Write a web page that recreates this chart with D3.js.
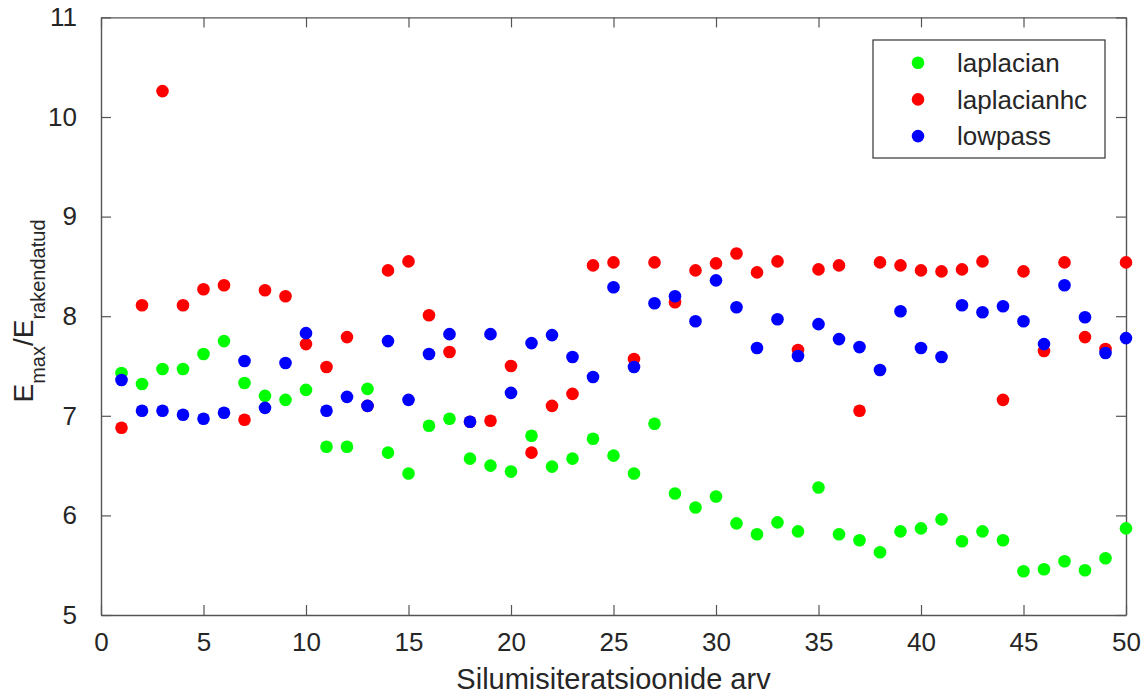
<!DOCTYPE html>
<html>
<head>
<meta charset="utf-8">
<script src="https://cdn.jsdelivr.net/npm/d3@7"></script>
<style>
	body { margin: 0; background: #fff; }
	text { font-family: 'Liberation Sans', Arial, sans-serif; fill: #262626; }
</style>
</head>
<body>
<div id="chart"></div>
<script>
const iterations = d3.range(1, 51);

const laplacian = [
	7.43, 7.32, 7.47, 7.47, 7.62, 7.75, 7.33, 7.2, 7.16, 7.26,
	6.69, 6.69, 7.27, 6.63, 6.42, 6.9, 6.97, 6.57, 6.5, 6.44,
	6.8, 6.49, 6.57, 6.77, 6.6, 6.42, 6.92, 6.22, 6.08, 6.19,
	5.92, 5.81, 5.93, 5.84, 6.28, 5.81, 5.75, 5.63, 5.84, 5.87,
	5.96, 5.74, 5.84, 5.75, 5.44, 5.46, 5.54, 5.45, 5.57, 5.87,
];
const laplacianhc = [
	6.88, 8.11, 10.26, 8.11, 8.27, 8.31, 6.96, 8.26, 8.2, 7.72,
	7.49, 7.79, 7.1, 8.46, 8.55, 8.01, 7.64, 6.94, 6.95, 7.5,
	6.63, 7.1, 7.22, 8.51, 8.54, 7.57, 8.54, 8.14, 8.46, 8.53,
	8.63, 8.44, 8.55, 7.66, 8.47, 8.51, 7.05, 8.54, 8.51, 8.46,
	8.45, 8.47, 8.55, 7.16, 8.45, 7.65, 8.54, 7.79, 7.67, 8.54,
];
const lowpass = [
	7.36, 7.05, 7.05, 7.01, 6.97, 7.03, 7.55, 7.08, 7.53, 7.83,
	7.05, 7.19, 7.1, 7.75, 7.16, 7.62, 7.82, 6.94, 7.82, 7.23,
	7.73, 7.81, 7.59, 7.39, 8.29, 7.49, 8.13, 8.2, 7.95, 8.36,
	8.09, 7.68, 7.97, 7.6, 7.92, 7.77, 7.69, 7.46, 8.05, 7.68,
	7.59, 8.11, 8.04, 8.1, 7.95, 7.72, 8.31, 7.99, 7.63, 7.78,
];
const xTicks = [0, 5, 10, 15, 20, 25, 30, 35, 40, 45, 50];
const yTicks = [5, 6, 7, 8, 9, 10, 11];

const series = [
	{ name: 'laplacian', values: laplacian, color: '#00ff00' },
	{ name: 'laplacianhc', values: laplacianhc, color: '#ff0000' },
	{ name: 'lowpass', values: lowpass, color: '#0000ff' },
];

var margin = { top: 17.4, right: 21, bottom: 82, left: 101 };
var width = 1147 - margin.left - margin.right;
var height = 697 - margin.top - margin.bottom;

var svg = d3
	.select('#chart')
	.append('svg')
	.attr('width', 1147)
	.attr('height', 697)
	.append('g')
	.attr('transform', 'translate(' + margin.left + ',' + margin.top + ')');

var x = d3.scaleLinear().domain([0, 50]).range([0, width]);
var y = d3.scaleLinear().domain([5, 11]).range([height, 0]);

// axes with inward ticks on all four sides
function styleAxis(g) {
	g.select('.domain').attr('stroke', '#555').attr('stroke-width', 1.4);
	g.selectAll('.tick line').attr('stroke', '#555').attr('stroke-width', 1.2);
	g.selectAll('text').style('font-size', '26px').attr('fill', '#262626');
}

svg.append('g')
	.attr('transform', 'translate(0,' + height + ')')
	.call(d3.axisBottom(x).tickValues(xTicks).tickSize(-10).tickSizeOuter(0).tickPadding(18).tickFormat(d3.format('d')))
	.call(styleAxis);

svg.append('g')
	.call(d3.axisTop(x).tickValues(xTicks).tickSize(-10).tickSizeOuter(0).tickFormat(''))
	.call(styleAxis);

svg.append('g')
	.call(d3.axisLeft(y).tickValues(yTicks).tickSize(-10).tickSizeOuter(0).tickPadding(24).tickFormat(d3.format('d')))
	.call(styleAxis);

svg.append('g')
	.attr('transform', 'translate(' + width + ',0)')
	.call(d3.axisRight(y).tickValues(yTicks).tickSize(-10).tickSizeOuter(0).tickFormat(''))
	.call(styleAxis);

// points
series.forEach(function (s) {
	svg.append('g')
		.selectAll('circle')
		.data(s.values)
		.enter()
		.append('circle')
		.attr('cx', function (d, i) {
			return x(iterations[i]);
		})
		.attr('cy', function (d) {
			return y(d);
		})
		.attr('r', 6.3)
		.attr('fill', s.color);
});

// axis labels
svg.append('text')
	.attr('x', x(25))
	.attr('y', 689 - margin.top)
	.attr('text-anchor', 'middle')
	.style('font-size', '29px')
	.text('Silumisiteratsioonide arv');

var ylab = svg.append('text')
	.attr('transform', 'translate(' + (33 - margin.left) + ',' + (311 - margin.top) + ')rotate(-90)')
	.attr('text-anchor', 'middle')
	.style('font-size', '28px');
ylab.append('tspan').text('E');
ylab.append('tspan').attr('dy', 12).style('font-size', '20px').text('max');
ylab.append('tspan').attr('dy', -12).text('/E');
ylab.append('tspan').attr('dy', 12).style('font-size', '20px').text('rakendatud');

// legend
var legend = svg.append('g').attr('transform', 'translate(' + (873 - margin.left) + ',' + (40 - margin.top) + ')');
legend.append('rect')
	.attr('width', 232)
	.attr('height', 118)
	.attr('fill', '#fff')
	.attr('stroke', '#333')
	.attr('stroke-width', 1.2);
series.forEach(function (s, i) {
	legend.append('circle')
		.attr('cx', 45)
		.attr('cy', 22.7 + i * 36.7)
		.attr('r', 6.3)
		.attr('fill', s.color);
	legend.append('text')
		.attr('x', 84)
		.attr('y', 22.7 + i * 36.7)
		.attr('dy', '0.35em')
		.style('font-size', '26px')
		.text(s.name);
});
</script>
</body>
</html>
